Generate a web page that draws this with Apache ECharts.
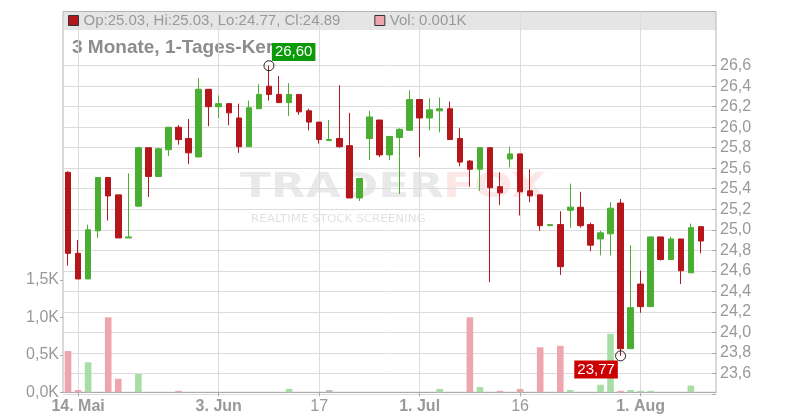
<!DOCTYPE html>
<html><head><meta charset="utf-8">
<script src="https://cdn.jsdelivr.net/npm/echarts@6/dist/echarts.min.js"></script>
<style>html,body{margin:0;padding:0;background:#fff}#c{width:800px;height:420px}</style>
</head><body><div id="c"></div>
<script>
// ---- data ----
const dates = [
 '2024-05-13','2024-05-14','2024-05-15','2024-05-16','2024-05-17','2024-05-20','2024-05-21','2024-05-22','2024-05-23','2024-05-24',
 '2024-05-27','2024-05-28','2024-05-29','2024-05-30','2024-05-31',
 '2024-06-03','2024-06-04','2024-06-05','2024-06-06','2024-06-07','2024-06-10','2024-06-11','2024-06-12','2024-06-13','2024-06-14',
 '2024-06-17','2024-06-18','2024-06-19','2024-06-20','2024-06-21','2024-06-24','2024-06-25','2024-06-26','2024-06-27','2024-06-28',
 '2024-07-01','2024-07-02','2024-07-03','2024-07-05','2024-07-08','2024-07-09','2024-07-10','2024-07-11','2024-07-12','2024-07-15',
 '2024-07-16','2024-07-17','2024-07-18','2024-07-19','2024-07-22','2024-07-23','2024-07-24','2024-07-25','2024-07-26','2024-07-29',
 '2024-07-30','2024-07-31',
 '2024-08-01','2024-08-02','2024-08-05','2024-08-06','2024-08-07','2024-08-08','2024-08-09','2024-08-12'
];
const open  = [25.56,24.77,24.52,24.99,25.51,25.34,24.92,25.23,25.80,25.52,25.78,26.00,25.89,25.71,26.37,26.20,26.23,26.09,25.81,26.18,
               26.40,26.32,26.24,26.32,26.16,26.05,25.87,25.89,25.82,25.31,25.89,26.07,25.73,25.90,25.97,26.27,26.09,26.16,26.18,25.89,
               25.67,25.59,25.80,25.42,25.69,25.74,25.38,25.34,25.04,25.05,25.19,25.22,25.05,24.91,24.96,25.26,23.84,24.47,24.25,24.93,
               24.71,24.91,24.58,25.03];
const high  = [25.57,24.90,25.05,25.51,25.51,25.34,25.55,25.81,25.80,25.80,26.00,26.02,26.08,26.48,26.37,26.31,26.23,26.23,26.26,26.42,
               26.60,26.50,26.43,26.32,26.18,26.05,26.07,26.41,26.14,25.50,26.16,26.07,25.91,25.99,26.36,26.27,26.28,26.29,26.25,25.99,
               25.68,25.80,25.80,25.56,25.81,25.74,25.59,25.34,25.05,25.18,25.45,25.37,25.07,24.99,25.27,25.30,24.85,24.60,24.93,24.93,
               24.93,24.91,25.06,25.03];
const low   = [24.65,24.52,24.52,24.92,25.09,24.92,24.92,25.23,25.32,25.52,25.72,25.83,25.64,25.71,26.01,26.09,26.02,25.75,25.81,26.18,
               26.26,26.24,26.11,26.12,25.97,25.84,25.87,25.80,25.31,25.28,25.68,25.71,25.68,25.35,25.97,25.71,25.97,25.95,25.88,25.62,
               25.42,25.38,24.49,25.24,25.61,25.14,25.27,24.99,25.04,24.56,25.02,25.02,24.79,24.75,24.75,23.77,23.84,24.19,24.25,24.70,
               24.71,24.47,24.58,24.77];
const close = [24.77,24.52,25.00,25.51,25.33,24.92,24.93,25.80,25.52,25.79,26.00,25.88,25.75,26.37,26.20,26.23,26.14,25.81,26.19,26.32,
               26.32,26.24,26.32,26.15,26.05,25.88,25.88,25.81,25.31,25.50,26.10,25.73,25.91,25.98,26.27,26.09,26.17,26.18,25.88,25.66,
               25.59,25.80,25.41,25.36,25.74,25.37,25.33,25.04,25.05,24.64,25.22,25.04,24.85,24.97,25.21,23.84,24.24,24.25,24.93,24.71,
               24.91,24.60,25.02,24.89];
const volume = [550,30,400,0,1000,180,0,245,0,0,0,20,0,0,0,0,0,0,0,0,
                0,0,45,0,0,0,30,0,0,0,0,0,0,0,0,0,0,45,0,0,
                1000,70,0,20,0,45,0,600,0,620,30,0,0,100,780,20,30,20,20,0,
                0,0,90,1];
const tickLabels = {'2024-05-14':'14. Mai','2024-06-03':'3. Jun','2024-06-17':'17','2024-07-01':'1. Jul','2024-07-16':'16','2024-08-01':'1. Aug'};
const volumeTicks = [0, 500, 1000, 1500];

// ---- styles ----
const UP = '#4aae33', DOWN = '#b4161b';
const VUP = '#a9dda6', VDOWN = '#eda6ad', VFLAT = '#bdbdbd';
const FONT = '"Liberation Sans", Arial, sans-serif';

const n = open.length;
const candles = open.map((o, i) => [o, close[i], low[i], high[i]]);
const volData = volume.map((v, i) => {
  const prev = i > 0 ? close[i - 1] : open[i];
  const c = close[i] > prev ? VUP : (close[i] < prev ? VDOWN : VFLAT);
  return { value: v, itemStyle: { color: c } };
});
const comma = (v, d) => v.toFixed(d).replace('.', ',');
const last = n - 1;
const candleName = 'Op:' + open[last].toFixed(2) + ', Hi:' + high[last].toFixed(2) + ', Lo:' + low[last].toFixed(2) + ', Cl:' + close[last].toFixed(2);
const volName = 'Vol: ' + (volume[last] / 1000).toFixed(3) + 'K';
let hiIdx = 0, loIdx = 0;
for (let i = 0; i < n; i++) { if (high[i] > high[hiIdx]) hiIdx = i; if (low[i] < low[loIdx]) loIdx = i; }

const isTick = (idx, val) => tickLabels[val] !== undefined;
const hiddenX = { type: 'category', data: dates, boundaryGap: true, show: false };

const chart = echarts.init(document.getElementById('c'), null, { renderer: 'canvas' });
chart.setOption({
  animation: false,
  textStyle: { fontFamily: FONT },
  grid: [
    { left: 63, right: 84, top: 11.5, bottom: 27.7, show: true, borderColor: '#b4b4b4', borderWidth: 1, backgroundColor: 'transparent' },
    { left: 63, right: 84, top: 65.7, bottom: 26.2 },
    { left: 63, right: 84, top: 279.8, bottom: 27.7 }
  ],
  xAxis: [
    { type: 'category', data: dates, boundaryGap: true, gridIndex: 0,
      axisLine: { show: true, lineStyle: { color: '#aaa' } },
      axisTick: { show: true, alignWithLabel: true, interval: isTick, length: 4, lineStyle: { color: '#aaa' } },
      splitLine: { show: true, alignWithLabel: true, interval: isTick, lineStyle: { color: '#dcdcdc' } },
      axisLabel: { interval: isTick, margin: 6, color: '#999', fontSize: 16,
        formatter: v => { const t = tickLabels[v] || ''; return /[A-Za-z]/.test(t) ? '{b|' + t + '}' : '{n|' + t + '}'; },
        rich: { b: { fontWeight: 'bold', fontSize: 16, color: '#999' }, n: { fontSize: 16, color: '#999' } } } },
    Object.assign({ gridIndex: 1 }, hiddenX),
    Object.assign({ gridIndex: 2 }, hiddenX)
  ],
  yAxis: [
    { type: 'value', gridIndex: 0, show: false, min: 0, max: 1 },
    { type: 'value', gridIndex: 1, position: 'right', min: 23.4, max: 26.6, interval: 0.2,
      axisLine: { show: false },
      axisTick: { show: true, inside: true, length: 4, lineStyle: { color: '#aaa' } },
      splitLine: { show: true, lineStyle: { color: '#dcdcdc' } },
      axisLabel: { margin: 4, color: '#999', fontSize: 16, formatter: v => v < 23.5 ? '' : comma(v, 1) } },
    { type: 'value', gridIndex: 2, position: 'left', min: volumeTicks[0], max: volumeTicks[volumeTicks.length - 1], interval: volumeTicks[1] - volumeTicks[0],
      axisLine: { show: false },
      axisTick: { show: true, length: 3, lineStyle: { color: '#aaa' } },
      splitLine: { show: false },
      axisLabel: { margin: 4, color: '#999', fontSize: 16, formatter: v => comma(v / 1000, 1) + 'K' } }
  ],
  legend: {
    left: 68, top: 13, itemWidth: 10, itemHeight: 10, itemGap: 34, padding: 0, selectedMode: false,
    textStyle: { color: '#999', fontSize: 15 },
    data: [
      { name: candleName, icon: 'rect', itemStyle: { color: DOWN, borderColor: '#333', borderWidth: 1 } },
      { name: volName, icon: 'rect', itemStyle: { color: VDOWN, borderColor: '#333', borderWidth: 1 } }
    ]
  },
  graphic: [
    { type: 'rect', z: -1, shape: { x: 63.5, y: 12, width: 652.5, height: 18 }, style: { fill: 'rgba(0,0,0,0.1)' } },
    { type: 'text', z: -1, x: 72, y: 48, style: { text: '3 Monate, 1-Tages-Kerzen', font: 'bold 19px ' + FONT, fill: '#8c8c8c', verticalAlign: 'middle' } },
    { type: 'text', z: -1, x: 240, y: 188, scaleX: 1.33, style: { text: 'TRADER', font: 'bold 34px "DejaVu Sans"', fill: 'rgba(0,0,0,0.085)', verticalAlign: 'middle' } },
    { type: 'text', z: -1, x: 443, y: 188, scaleX: 1.33, style: { text: 'FOX', font: 'bold 34px "DejaVu Sans"', fill: 'rgba(235,60,60,0.13)', verticalAlign: 'middle' } },
    { type: 'text', z: -1, x: 251, y: 219.5, scaleX: 1.08, style: { text: 'REALTIME STOCK SCREENING', font: '11px "DejaVu Sans"', fill: 'rgba(0,0,0,0.12)', verticalAlign: 'middle' } }
  ],
  series: [
    { type: 'bar', name: volName, xAxisIndex: 2, yAxisIndex: 2, data: volData, barWidth: '66%', z: 2, itemStyle: { color: VDOWN } },
    { type: 'candlestick', name: candleName, xAxisIndex: 1, yAxisIndex: 1, data: candles, barWidth: 6, z: 3,
      itemStyle: { color: UP, color0: DOWN, borderColor: UP, borderColor0: DOWN, borderWidth: 1 },
      markPoint: {
        symbol: 'circle', symbolSize: 10, z: 5,
        itemStyle: { color: 'rgba(0,0,0,0)', borderColor: '#222', borderWidth: 1 },
        data: [
          { coord: [hiIdx, high[hiIdx]], value: high[hiIdx],
            label: { show: true, position: 'inside', offset: [24.7, -13.8], formatter: comma(high[hiIdx], 2), color: '#fff', fontSize: 15,
              backgroundColor: '#0a9a0a', padding: [2, 3, 1, 3] } },
          { coord: [loIdx, low[loIdx]], value: low[loIdx],
            label: { show: true, position: 'inside', offset: [-24.5, 13.6], formatter: comma(low[loIdx], 2), color: '#fff', fontSize: 15,
              backgroundColor: '#cc0000', padding: [2, 3, 1, 3] } }
        ]
      } }
  ]
});
</script></body></html>
